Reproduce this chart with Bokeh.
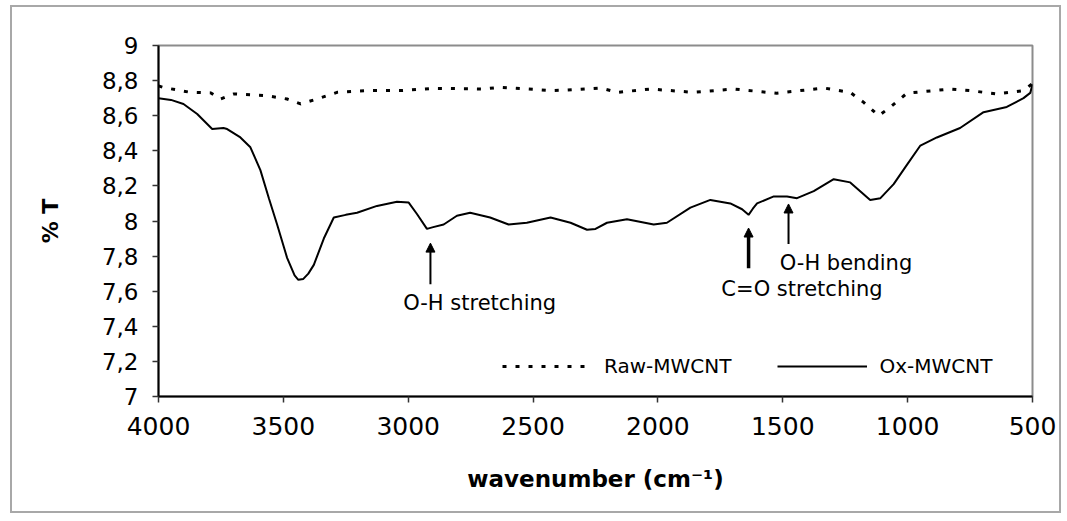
from bokeh.plotting import figure
from bokeh.models import (Range1d, FixedTicker, CustomJSTickFormatter, Legend, LegendItem,
                          Arrow, NormalHead, Label)
from bokeh.embed import file_html
from bokeh.resources import INLINE

# ---------------- data ----------------
ox_wn = [4000, 3950, 3900, 3845, 3785, 3740, 3725, 3672, 3632, 3592, 3558, 3525, 3485, 3455,
         3440, 3420, 3400, 3378, 3338, 3298, 3250, 3205, 3125, 3045, 2998, 2965, 2925, 2900,
         2858, 2805, 2752, 2672, 2598, 2525, 2430, 2350, 2284, 2250, 2204, 2124, 2017, 1964,
         1870, 1790, 1710, 1663, 1637, 1620, 1603, 1536, 1483, 1443, 1376, 1296, 1230, 1150,
         1109, 1056, 1003, 949, 883, 790, 696, 603, 536, 509, 500]
ox_t = [8.70, 8.69, 8.667, 8.61, 8.524, 8.53, 8.524, 8.476, 8.42, 8.29, 8.13, 7.98, 7.79, 7.69,
        7.665, 7.67, 7.70, 7.75, 7.90, 8.02, 8.035, 8.047, 8.086, 8.11, 8.105, 8.04, 7.955,
        7.965, 7.98, 8.03, 8.047, 8.02, 7.98, 7.99, 8.02, 7.99, 7.95, 7.955, 7.99, 8.01, 7.98,
        7.99, 8.076, 8.12, 8.10, 8.067, 8.035, 8.07, 8.10, 8.14, 8.14, 8.13, 8.17, 8.238, 8.22,
        8.12, 8.13, 8.21, 8.32, 8.43, 8.476, 8.53, 8.62, 8.65, 8.70, 8.73, 8.78]

raw_wn = [4000, 3978, 3872, 3790, 3752, 3698, 3565, 3485, 3431, 3365, 3285, 3165, 3031, 2898,
          2698, 2631, 2498, 2430, 2364, 2230, 2163, 2030, 1857, 1697, 1524, 1336, 1230, 1176,
          1116, 1070, 1003, 830, 750, 643, 536, 503, 500]
raw_t = [8.77, 8.76, 8.733, 8.73, 8.695, 8.724, 8.714, 8.695, 8.667, 8.695, 8.733, 8.743, 8.743,
         8.756, 8.752, 8.762, 8.75, 8.743, 8.746, 8.758, 8.733, 8.752, 8.733, 8.752, 8.728,
         8.758, 8.733, 8.676, 8.60, 8.648, 8.728, 8.752, 8.743, 8.724, 8.743, 8.78, 8.80]

x_ticks = [4000, 3500, 3000, 2500, 2000, 1500, 1000, 500]
y_ticks = [7, 7.2, 7.4, 7.6, 7.8, 8, 8.2, 8.4, 8.6, 8.8, 9]
y_tick_labels = ["7", "7,2", "7,4", "7,6", "7,8", "8", "8,2", "8,4", "8,6", "8,8", "9"]

series_names = ["Raw-MWCNT", "Ox-MWCNT"]

annotations = [
    # label, arrow x, arrow tail y, arrow head y, text x (center), text y, arrow width
    ("O-H stretching", 2911, 7.64, 7.874, 2714, 7.531, 2.0),
    ("C=O stretching", 1637, 7.731, 7.96, 1423, 7.611, 3.5),
    ("O-H bending", 1477, 7.869, 8.097, 1247, 7.76, 2.0),
]

FONT = "DejaVu Sans"

# ---------------- figure ----------------
p = figure(width=1051, height=508, output_backend="svg", toolbar_location=None,
           x_range=Range1d(4000, 500), y_range=Range1d(7, 9),
           min_border_left=146, min_border_right=31, min_border_top=38, min_border_bottom=119)
p.styles = {"border": "2px solid #a8a8a8", "margin-left": "10px", "margin-top": "5px"}

p.grid.visible = False
p.outline_line_color = "#8c8c8c"
p.outline_line_width = 2
p.background_fill_color = "white"
p.border_fill_color = "white"

raw = p.line(raw_wn, raw_t, line_color="black", line_width=3, line_dash="4 9")
ox = p.line(ox_wn, ox_t, line_color="black", line_width=2)

# axes
xa = p.xaxis[0]
xa.ticker = FixedTicker(ticks=x_ticks)
xa.axis_label = "wavenumber (cm\u207b\u00b9)"
xa.axis_label_text_font = FONT
xa.axis_label_text_font_style = "bold"
xa.axis_label_text_font_size = "23px"
xa.axis_label_standoff = 28
xa.major_label_text_font = FONT
xa.major_label_text_font_size = "25px"
xa.major_label_standoff = 14
xa.major_tick_out = 6
xa.major_tick_in = 0
xa.minor_tick_out = 0
xa.minor_tick_in = 0
xa.axis_line_width = 2
xa.major_tick_line_width = 1.5

ya = p.yaxis[0]
ya.ticker = FixedTicker(ticks=y_ticks)
ya.formatter = CustomJSTickFormatter(args=dict(tvals=y_ticks, tlabels=y_tick_labels), code="""
    for (let i = 0; i < tvals.length; i++) {
        if (Math.abs(tvals[i] - tick) < 1e-6) { return tlabels[i]; }
    }
    return '';
""")
ya.axis_label = "% T"
ya.axis_label_text_font = FONT
ya.axis_label_text_font_style = "bold"
ya.axis_label_text_font_size = "22px"
ya.axis_label_standoff = 36
ya.major_label_text_font = FONT
ya.major_label_text_font_size = "23px"
ya.major_label_standoff = 14
ya.major_tick_out = 6
ya.major_tick_in = 0
ya.minor_tick_out = 0
ya.minor_tick_in = 0
ya.axis_line_width = 2
ya.major_tick_line_width = 1.5

for ax in (xa, ya):
    ax.axis_line_color = "black"
    ax.major_tick_line_color = "#333333"
    ax.major_label_text_color = "black"
    ax.axis_label_text_color = "black"

# annotations
for text, ax_x, y0, y1, tx, ty, lw in annotations:
    p.add_layout(Arrow(end=NormalHead(size=9, fill_color="black", line_color="black"),
                       x_start=ax_x, y_start=y0, x_end=ax_x, y_end=y1,
                       line_color="black", line_width=lw))
    p.add_layout(Label(x=tx, y=ty, text=text, text_align="center", text_baseline="middle",
                       text_font=FONT, text_font_size="21px", text_color="black"))

# legend
legend = Legend(items=[LegendItem(label=series_names[0], renderers=[raw]),
                       LegendItem(label=series_names[1], renderers=[ox])],
                orientation="horizontal", location=(344, 18),
                glyph_width=90, glyph_height=20, label_height=20, label_standoff=12,
                spacing=46, padding=0, margin=0,
                label_text_font=FONT, label_text_font_size="20px", label_text_color="black",
                border_line_color=None, background_fill_alpha=0)
p.add_layout(legend, "center")

open("out.html", "w").write(file_html(p, INLINE))
